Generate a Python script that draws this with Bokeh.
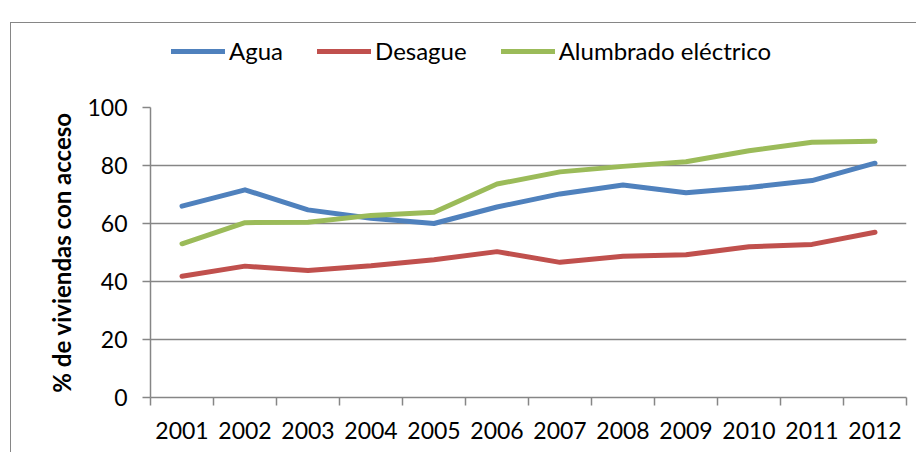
from bokeh.plotting import figure
from bokeh.models import FixedTicker, Range1d, Legend, LegendItem
from bokeh.layouts import column
from bokeh.embed import file_html
from bokeh.resources import INLINE

years = [2001, 2002, 2003, 2004, 2005, 2006, 2007, 2008, 2009, 2010, 2011, 2012]
agua = [66.0, 71.6, 64.7, 61.8, 60.0, 65.7, 70.2, 73.3, 70.6, 72.4, 74.8, 80.8]
desague = [41.8, 45.3, 43.8, 45.4, 47.5, 50.3, 46.6, 48.7, 49.2, 52.0, 52.8, 57.0]
alumbrado = [53.0, 60.3, 60.4, 62.8, 63.9, 73.6, 77.8, 79.7, 81.3, 85.1, 88.0, 88.4]
series_names = ["Agua", "Desague", "Alumbrado eléctrico"]
colors = ["#4F81BD", "#C0504D", "#9BBB59"]
y_ticks = [0, 20, 40, 60, 80, 100]

FONT = "Lato"
GRID = "#868686"
W = 905
series = [agua, desague, alumbrado]

# ---- main chart ----
p = figure(width=W, height=360, output_backend="svg", toolbar_location=None,
           x_range=Range1d(years[0] - 0.5, years[-1] + 0.5), y_range=Range1d(0, 100),
           min_border_left=139, min_border_right=10, min_border_top=15, min_border_bottom=55)
p.outline_line_color = None
p.background_fill_color = "white"
p.border_fill_color = "white"

for vals, c in zip(series, colors):
    p.line(years, vals, line_color=c, line_width=5, line_cap="round", line_join="round")

p.xaxis.ticker = FixedTicker(ticks=years, minor_ticks=[y - 0.5 for y in years] + [years[-1] + 0.5])
p.xaxis.major_tick_out = 0
p.xaxis.major_tick_in = 0
p.xaxis.minor_tick_out = 8
p.xaxis.minor_tick_in = 0
p.xaxis.minor_tick_line_color = GRID
p.xaxis.minor_tick_line_width = 1.5
p.xaxis.axis_line_color = GRID
p.xaxis.axis_line_width = 1.5
p.xaxis.major_label_text_font = FONT
p.xaxis.major_label_text_font_size = "23px"
p.xaxis.major_label_text_color = "black"
p.xaxis.major_label_standoff = 16
p.xgrid.grid_line_color = None

p.yaxis.ticker = FixedTicker(ticks=y_ticks, minor_ticks=[])
p.yaxis.major_tick_out = 8
p.yaxis.major_tick_in = 0
p.yaxis.major_tick_line_color = GRID
p.yaxis.major_tick_line_width = 1.5
p.yaxis.axis_line_color = GRID
p.yaxis.axis_line_width = 1.5
p.yaxis.major_label_text_font = FONT
p.yaxis.major_label_text_font_size = "23px"
p.yaxis.major_label_text_color = "black"
p.yaxis.major_label_standoff = 15
p.yaxis.axis_label = "% de viviendas con acceso"
p.yaxis.axis_label_text_font = FONT
p.yaxis.axis_label_text_font_style = "bold"
p.yaxis.axis_label_text_font_size = "24px"
p.yaxis.axis_label_text_color = "black"
p.yaxis.axis_label_standoff = 8
p.ygrid.grid_line_color = GRID
p.ygrid.grid_line_width = 1.5

# ---- legend strip (its lines lie outside its ranges, only the legend shows) ----
lg = figure(width=W, height=69, output_backend="svg", toolbar_location=None,
            x_range=Range1d(0, 1), y_range=Range1d(0, 1),
            min_border_left=0, min_border_right=0, min_border_top=0, min_border_bottom=0)
lg.axis.visible = False
lg.grid.visible = False
lg.outline_line_color = None
lg.background_fill_color = "white"
lg.border_fill_color = "white"
dummies = [lg.line(years, vals, line_color=c, line_width=5, line_cap="round")
           for vals, c in zip(series, colors)]
legend = Legend(items=[LegendItem(label=n, renderers=[r]) for n, r in zip(series_names, dummies)],
                orientation="horizontal", location=(21, 27),
                glyph_width=54, glyph_height=20, label_standoff=4, spacing=34,
                label_text_font=FONT, label_text_font_size="24px", label_text_color="black",
                border_line_color=None, background_fill_alpha=0, padding=0, margin=0)
lg.add_layout(legend, "center")

layout = column(lg, p, spacing=0)
layout.styles = {"margin-left": "10px", "margin-top": "22px",
                 "border-left": "1px solid #868686", "border-top": "1px solid #868686"}

open("out.html", "w").write(file_html(layout, INLINE))
